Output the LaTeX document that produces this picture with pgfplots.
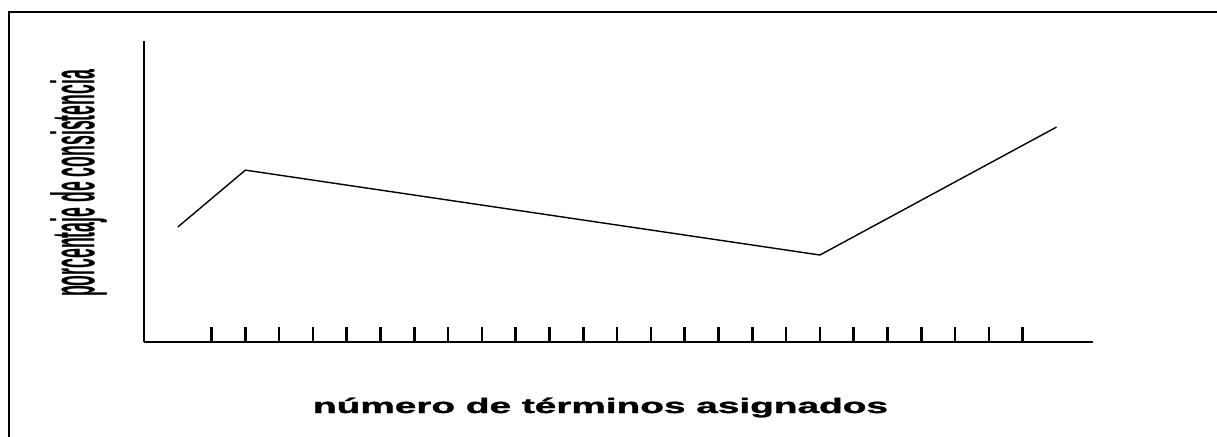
\documentclass[border=0pt]{standalone}
\usepackage{pgfplots}
\pgfplotsset{compat=1.18}
\usepackage{fontspec}
\setmainfont{Liberation Sans}
\newfontfamily\heavyfont[FakeBold=1.2]{Liberation Sans Bold}
\usepackage{graphicx}

\begin{document}
\begin{tikzpicture}
    % picture size = reference size, origin at the axis corner
    \useasboundingbox (-144pt,-94pt) rectangle (1073pt,342pt);
    \draw[line width=1.6pt] (-135pt,-96pt) -- (-135pt,330pt) -- (1075pt,330pt);

    \begin{axis}[
        at={(0pt,0pt)}, anchor=south west,
        scale only axis,
        width=949pt, height=301pt,
        xmin=-1, xmax=27.08,
        ymin=0, ymax=100,
        axis lines=left,
        axis line style={-, line width=1.6pt},
        xtick={1,...,25},
        xticklabels={},
        ytick=\empty,
        tick align=inside,
        major tick length=15pt,
        xtick style={line width=2.6pt, black},
    ]
    \addplot[black, line width=1.4pt] coordinates {
        (0,38.2) (2,57.1) (19,28.9) (26,71.4)
    };
    \end{axis}

    \node[anchor=base] at (456.5pt,-71pt)
        {\resizebox{575pt}{\height}{\fontsize{21}{21}\selectfont\heavyfont número de términos asignados}};
    \node[rotate=90] at (-65.5pt,158.5pt)
        {\resizebox{227pt}{\height}{\fontsize{61}{61}\selectfont\bfseries porcentaje de consistencia}};
\end{tikzpicture}
\end{document}
